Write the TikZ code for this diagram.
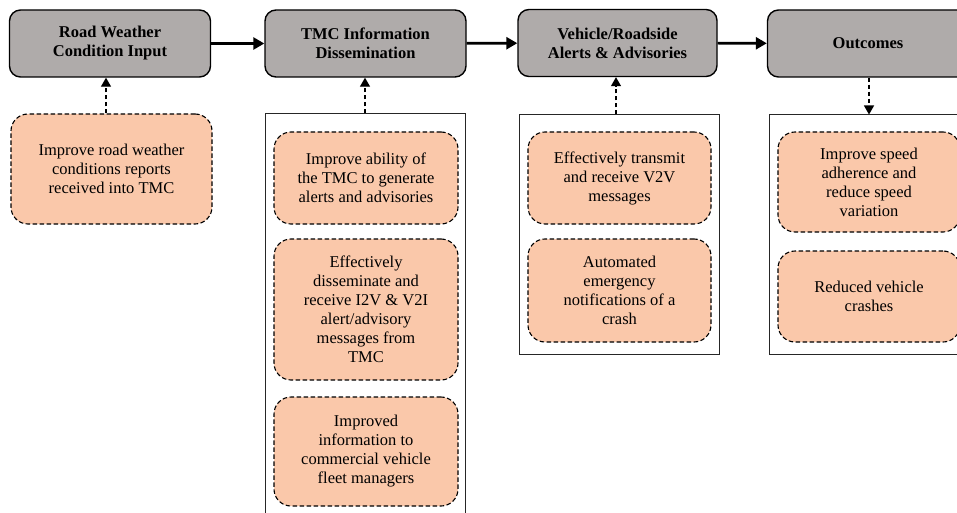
\documentclass[tikz,border=0pt]{standalone}
\usepackage{fontspec}
\setmainfont{Liberation Serif}
\usetikzlibrary{arrows.meta}
\definecolor{hdgray}{RGB}{175,171,170}
\definecolor{peach}{RGB}{250,200,170}
\tikzset{
  hdbox/.style={draw=black, line width=1.4pt, fill=hdgray, rounded corners=11pt,
    minimum width=201pt, minimum height=67pt, inner sep=0pt, align=center,
    font=\fontsize{16.5}{19}\selectfont\bfseries},
  subbox/.style={draw=black, line width=1.1pt, dash pattern=on 4.5pt off 2.5pt, fill=peach,
    rounded corners=17pt, inner sep=0pt, align=center,
    font=\fontsize{16.5}{19}\selectfont},
  container/.style={draw=black!85, line width=1pt, fill=white, inner sep=0pt},
  flow/.style={line width=2.6pt, -{Triangle[length=11pt,width=12pt]}},
  dasharrow/.style={line width=1.2pt, dash pattern=on 4pt off 3pt,
    -{Triangle[length=9pt,width=10pt]}}
}
\begin{document}
\begin{tikzpicture}[x=1pt,y=-1pt]
\useasboundingbox (0,0) rectangle (957,513);
\clip (0,0) rectangle (957,513);
% header boxes
\node[hdbox] (b1) at (110,43.5) {Road Weather\\Condition Input};
\node[hdbox] (b2) at (365.5,43.5) {TMC Information\\Dissemination};
\node[hdbox, minimum width=199pt] (b3) at (617.5,43) {Vehicle/Roadside\\Alerts \& Advisories};
\node[hdbox] (b4) at (868,43.5) {Outcomes};
\draw[flow] (b1) -- (b2);
\draw[flow] (b2) -- (b3);
\draw[flow] (b3) -- (b4);
% containers
\node[container, minimum width=200pt, minimum height=420pt] (k2) at (365,324) {};
\node[container, minimum width=200pt, minimum height=239pt] (k3) at (619,234.5) {};
\node[container, minimum width=200pt, minimum height=239pt] (k4) at (869,234.5) {};
% sub boxes
\node[subbox, minimum width=201pt, minimum height=110pt] (s1) at (111.5,169)
  {Improve road weather\\conditions reports\\received into TMC};
\node[subbox, minimum width=184pt, minimum height=92pt] (s2a) at (366,178)
  {Improve ability of\\the TMC to generate\\alerts and advisories};
\node[subbox, minimum width=184pt, minimum height=141pt] (s2b) at (366,309.5)
  {Effectively\\disseminate and\\receive I2V \& V2I\\alert/advisory\\messages from\\TMC};
\node[subbox, minimum width=184pt, minimum height=109pt] (s2c) at (366,451.5)
  {Improved\\information to\\commercial vehicle\\fleet managers};
\node[subbox, minimum width=183pt, minimum height=92pt] (s3a) at (619.5,178)
  {Effectively transmit\\and receive V2V\\messages};
\node[subbox, minimum width=183pt, minimum height=103pt] (s3b) at (619.5,290.5)
  {Automated\\emergency\\notifications of a\\crash};
\node[subbox, minimum width=182pt, minimum height=100pt] (s4a) at (869,182)
  {Improve speed\\adherence and\\reduce speed\\variation};
\node[subbox, minimum width=182pt, minimum height=91pt] (s4b) at (869,296.5)
  {Reduced vehicle\\crashes};
% dashed connectors
\draw[dasharrow] (s1.north -| b1.south) ++(-4,0) coordinate (d1) -- (d1 |- b1.south);
\draw[dasharrow] (k2.north) -- (k2.north |- b2.south);
\draw[dasharrow] (k3.north) ++(-3,0) coordinate (d3) -- (d3 |- b3.south);
\draw[dasharrow] (b4.south -| k4.north) -- (k4.north);
\end{tikzpicture}
\end{document}
